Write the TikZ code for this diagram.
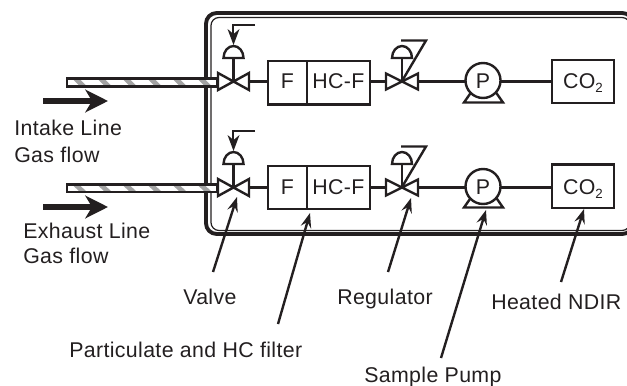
\documentclass[tikz,border=0pt]{standalone}
\usepackage{fontspec}
\setmainfont{Liberation Sans}
\newfontfamily\lblfont[LetterSpace=1.7]{Liberation Sans}
\usetikzlibrary{arrows.meta}
\definecolor{ink}{HTML}{231F20}
\definecolor{hatch}{HTML}{A3A3A3}
\tikzset{
  x=0.75pt,y=-0.75pt,
  pipeline/.style={draw=ink,line width=1.8pt},
  boxtext/.style={text=ink,inner sep=0pt,font=\lblfont\fontsize{16}{18}\selectfont},
  lab/.style={anchor=base west,inner sep=0pt,text=ink,font=\lblfont\fontsize{16}{18}\selectfont},
  leader/.style={draw=ink,line width=1.8pt,-{Stealth[length=11pt,width=8pt,inset=4pt]}},
  flow/.style={draw=ink,line width=4pt,-{Stealth[length=17pt,width=17pt,inset=5pt]}},
}
\newcommand{\pipeseg}[2]{%
  \fill[white] (67,#1) rectangle (217,#2);
  \begin{scope}
    \clip (68,#1) rectangle (214,#2);
    \foreach \xx in {72,97,...,215}{
      \fill[hatch] (\xx,#1) -- (\xx+7,#1) -- (\xx+15,#2) -- (\xx+8,#2) -- cycle;
    }
  \end{scope}
  \draw[draw=ink,line width=1.9pt] (67,#1) rectangle (217,#2);
}
\newcommand{\vlv}[4]{%
  \draw[pipeline,line join=miter] (#1-#3,#2-#4) -- (#1+#3,#2+#4) -- (#1+#3,#2-#4) -- (#1-#3,#2+#4) -- cycle;
}
\begin{document}
\begin{tikzpicture}
\useasboundingbox (0,0) rectangle (627,385);
% frame
\draw[ink,line width=2.9pt,rounded corners=8pt] (206,13) rectangle (633,234);
\draw[ink,line width=0.9pt,rounded corners=6pt] (211,17.5) rectangle (630,230.5);
% pipes
\pipeseg{78.5}{86.5}
\pipeseg{184.5}{192}
% rows
\foreach \yy/\bt/\bb/\ct/\cb/\py/\gy in {81.5/61/104.5/60/103/80.5/102.5,187.5/166/209/164.5/208/186.5/207.5}{
  \draw[pipeline] (249,\yy) -- (268,\yy);
  \draw[pipeline] (370,\yy) -- (386,\yy);
  \draw[pipeline] (418,\yy) -- (465,\yy);
  \draw[pipeline] (501,\yy) -- (552,\yy);
  \vlv{233.5}{\yy}{15.5}{8.5}
  \vlv{402}{\yy}{16}{8}
  \draw[pipeline] (268,\bt) rectangle (307,\bb);
  \draw[pipeline] (307,\bt) rectangle (370,\bb);
  \node[boxtext] (f) at (287.5,\yy) {F};
  \node[boxtext] (h) at (338.5,\yy) {HC-F};
  \draw[pipeline] (552,\ct) rectangle (614,\cb);
  \node[boxtext] (c) at (583,\yy+1.5) {CO\raisebox{-2.5pt}{\lblfont\fontsize{10}{11}\selectfont 2}};
  % pump
  \draw[pipeline,line join=miter] (471,\gy-10) -- (464,\gy) -- (503,\gy) -- (496,\gy-10);
  \draw[pipeline,fill=white] (483,\py) circle[radius=17.5];
  \node[boxtext] (p) at (483,\py+0.5) {P};
}
% actuators
\foreach \dy in {0,106}{
  \begin{scope}[yshift=-0.75*\dy pt]
    \draw[pipeline] (233.5,81) -- (233.5,58.5);
    \draw[pipeline,line join=miter] (223.5,58) arc[start angle=180,end angle=360,x radius=10,y radius=12] -- cycle;
    \draw[pipeline] (255,25) -- (233,25) -- (233,40);
    \fill[ink] (233.5,45) -- (227.5,29) -- (233.5,34) -- (239.5,29) -- cycle;
    \draw[pipeline] (402,81) -- (402,58.5);
    \draw[pipeline,line join=miter] (392,58) arc[start angle=180,end angle=360,x radius=10,y radius=12] -- cycle;
    \draw[pipeline,line join=miter] (402,81) -- (426,40.5) -- (401,40.5);
  \end{scope}
}
% flow arrows
\coordinate (a1s) at (43,101); \coordinate (a1e) at (108,101);
\coordinate (a2s) at (43,207); \coordinate (a2e) at (108,207);
\draw[flow] (a1s) -- (a1e);
\draw[flow] (a2s) -- (a2e);
% labels
\node[lab] (l1) at (14,135.5) {Intake Line};
\node[lab] (l2) at (14,162) {Gas flow};
\node[lab] (l3) at (23,238) {Exhaust Line};
\node[lab] (l4) at (23,263.5) {Gas flow};
\node[lab] (l5) at (183,304) {Valve};
\node[lab] (l6) at (69,357) {Particulate and HC filter};
\node[lab] (l7) at (337,304) {Regulator};
\node[lab] (l8) at (491,309) {Heated NDIR};
\node[lab] (l9) at (364,382) {Sample Pump};
% leaders
\coordinate (v1) at (213,272); \coordinate (v2) at (237,197);
\coordinate (f1) at (278,324); \coordinate (f2) at (310,213);
\coordinate (r1) at (388,272); \coordinate (r2) at (411,198);
\coordinate (p1) at (441,358); \coordinate (p2) at (486,210);
\coordinate (c1) at (561,282); \coordinate (c2) at (584,209);
\draw[leader] (v1) -- (v2);
\draw[leader] (f1) -- (f2);
\draw[leader] (r1) -- (r2);
\draw[leader] (p1) -- (p2);
\draw[leader] (c1) -- (c2);
\end{tikzpicture}
\end{document}
